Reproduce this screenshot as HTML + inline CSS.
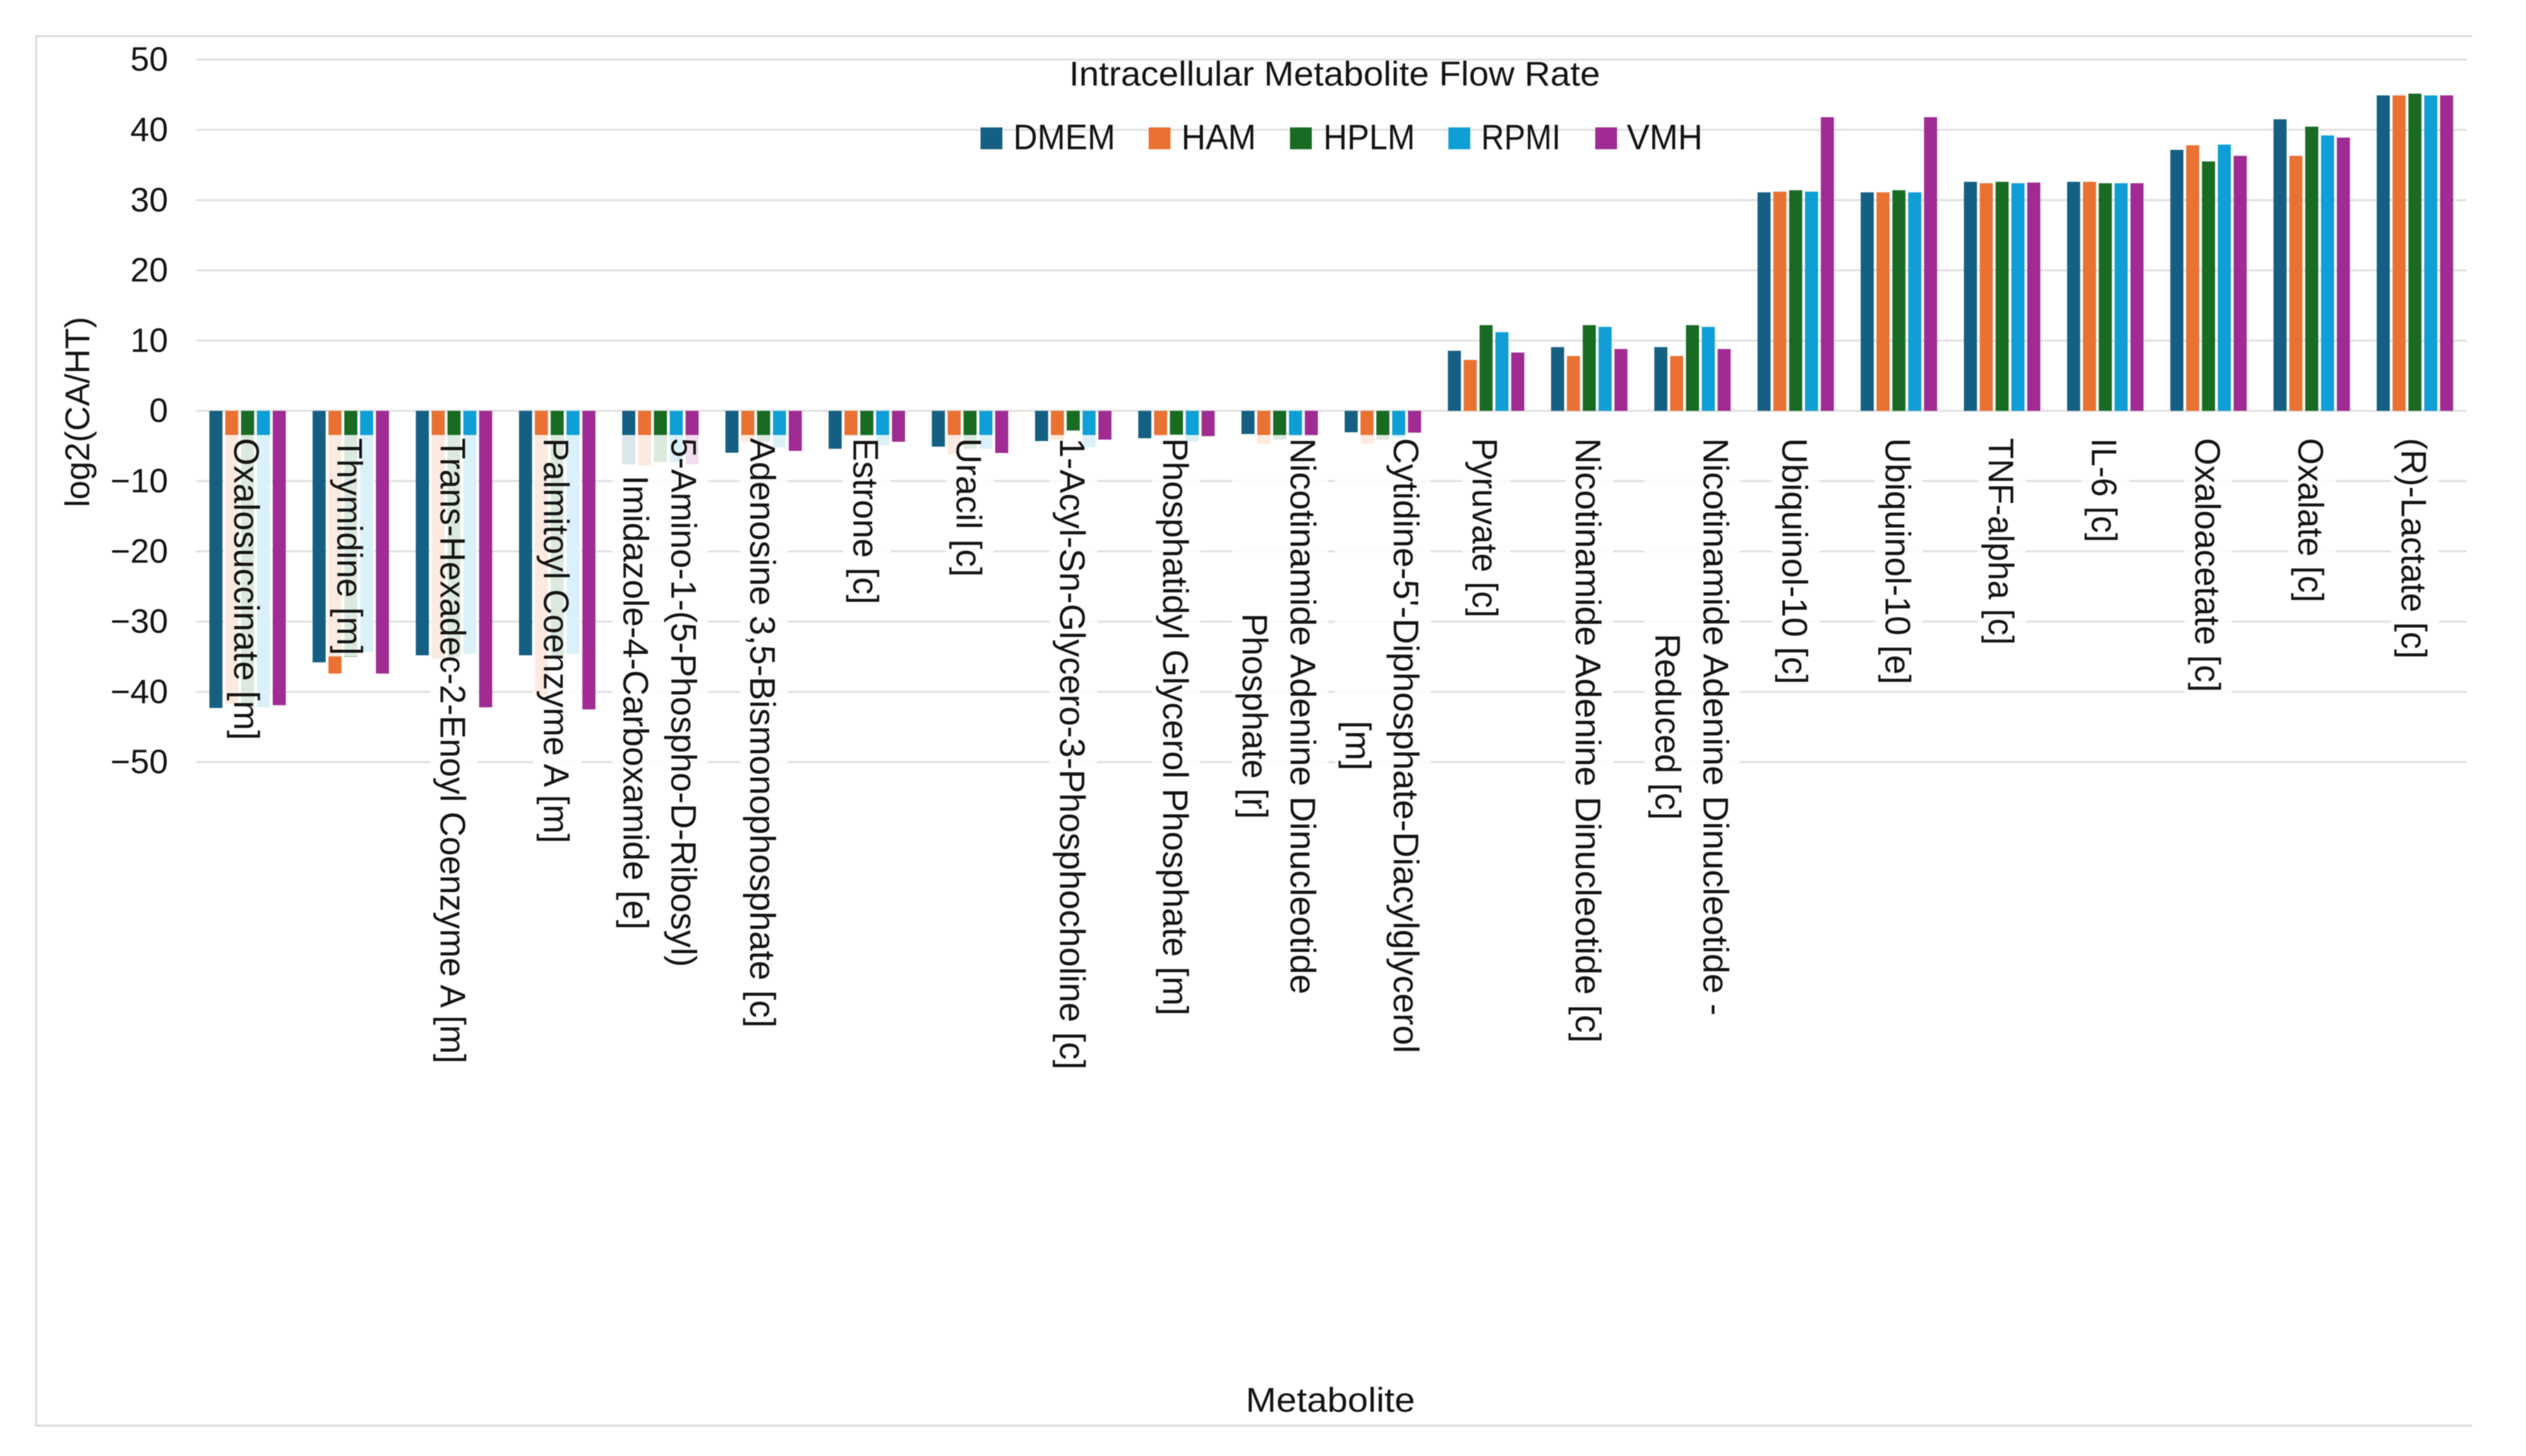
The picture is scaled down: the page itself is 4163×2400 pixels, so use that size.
<!DOCTYPE html>
<html lang="en">
<head>
<meta charset="utf-8">
<title>Intracellular Metabolite Flow Rate</title>
<style>
  html, body { margin: 0; padding: 0; background: #ffffff; }
  body { width: 4163px; height: 2400px; overflow: hidden; }
  svg { display: block; font-family: "Liberation Sans", sans-serif; filter: blur(0.8px); }
  text { fill: #141414; }
</style>
</head>
<body>
<svg id="chart" xmlns="http://www.w3.org/2000/svg" width="4163" height="2400" viewBox="0 0 4163 2400">
  <rect x="0" y="0" width="4163" height="2400" fill="#ffffff"/>
  <path d="M4074 59.5H59.5V2350H4074" fill="none" stroke="#d9d9d9" stroke-width="3"/>
  <g id="grid"></g>
  <g id="bars"></g>
  <g id="labels"></g>
  <g id="ticks"></g>
  <text transform="translate(147 679) rotate(-90)" text-anchor="middle" font-size="57" textLength="314" lengthAdjust="spacingAndGlyphs">log2(CA/HT)</text>
  <text x="1762" y="141" font-size="57" textLength="875" lengthAdjust="spacingAndGlyphs">Intracellular Metabolite Flow Rate</text>
  <g>
    <rect x="1616" y="210" width="36" height="36" fill="#156082"/>
    <text x="1670" y="246" font-size="58" textLength="168" lengthAdjust="spacingAndGlyphs">DMEM</text>
    <rect x="1893" y="210" width="36" height="36" fill="#E97132"/>
    <text x="1947" y="246" font-size="58" textLength="123" lengthAdjust="spacingAndGlyphs">HAM</text>
    <rect x="2126" y="210" width="36" height="36" fill="#196B24"/>
    <text x="2181" y="246" font-size="58" textLength="151" lengthAdjust="spacingAndGlyphs">HPLM</text>
    <rect x="2387" y="210" width="36" height="36" fill="#0F9ED5"/>
    <text x="2441" y="246" font-size="58" textLength="131" lengthAdjust="spacingAndGlyphs">RPMI</text>
    <rect x="2629" y="210" width="36" height="36" fill="#A02B93"/>
    <text x="2681" y="246" font-size="58" textLength="125" lengthAdjust="spacingAndGlyphs">VMH</text>
  </g>
  <text x="2053" y="2327" font-size="57" textLength="279" lengthAdjust="spacingAndGlyphs">Metabolite</text>
</svg>
<script>
const categories = [
  "Oxalosuccinate [m]",
  "Thymidine [m]",
  "Trans-Hexadec-2-Enoyl Coenzyme A [m]",
  "Palmitoyl Coenzyme A [m]",
  "5-Amino-1-(5-Phospho-D-Ribosyl)|Imidazole-4-Carboxamide [e]",
  "Adenosine 3,5-Bismonophosphate [c]",
  "Estrone [c]",
  "Uracil [c]",
  "1-Acyl-Sn-Glycero-3-Phosphocholine [c]",
  "Phosphatidyl Glycerol Phosphate [m]",
  "Nicotinamide Adenine Dinucleotide|Phosphate [r]",
  "Cytidine-5'-Diphosphate-Diacylglycerol|[m]",
  "Pyruvate [c]",
  "Nicotinamide Adenine Dinucleotide [c]",
  "Nicotinamide Adenine Dinucleotide -|Reduced [c]",
  "Ubiquinol-10 [c]",
  "Ubiquinol-10 [e]",
  "TNF-alpha [c]",
  "IL-6 [c]",
  "Oxaloacetate [c]",
  "Oxalate [c]",
  "(R)-Lactate [c]"
];
const seriesNames = ["DMEM", "HAM", "HPLM", "RPMI", "VMH"];
const seriesColors = ["#156082", "#E97132", "#196B24", "#0F9ED5", "#A02B93"];
const dmem = [-42.3, -35.8, -34.8, -34.8, -7.6, -5.96, -5.4, -5.1, -4.3, -3.9, -3.3, -3.05, 8.55, 9.07, 9.07, 31.1, 31.1, 32.6, 32.6, 37.15, 41.5, 44.9];
const ham = [-41.7, -37.4, -35.3, -40.5, -7.8, -4.4, -3.6, -6.2, -4.1, -3.6, -4.7, -4.7, 7.25, 7.8, 7.8, 31.2, 31.1, 32.4, 32.6, 37.8, 36.3, 44.9];
const hplm = [-42.2, -35, -35, -35, -7.3, -4.4, -3.6, -5.4, -2.8, -3.4, -4.1, -4.1, 12.2, 12.2, 12.2, 31.4, 31.4, 32.6, 32.4, 35.5, 40.45, 45.15];
const rpmi = [-42.2, -34.3, -34.6, -34.6, -7.3, -5.2, -4.9, -5.4, -5.2, -4.4, -3.6, -3.8, 11.2, 11.95, 11.95, 31.2, 31.1, 32.4, 32.4, 37.9, 39.2, 44.9];
const vmh = [-41.9, -37.4, -42.2, -42.5, -7.6, -5.7, -4.4, -6, -4.1, -3.6, -3.6, -3.1, 8.3, 8.8, 8.8, 41.8, 41.8, 32.5, 32.4, 36.3, 38.9, 44.9];
const yTicks = [50, 40, 30, 20, 10, 0, -10, -20, -30, -40, -50];

const NS = "http://www.w3.org/2000/svg";
const plotLeft = 323;
const plotRight = 4065;
const zeroY = 677.2;
const pxPerUnit = 11.58;
const barPitch = 26.1;
const barWidth = 21.5;
const fontSize = 58.5;
const labelTop = 717;
const labelTextTop = 722;
/* rendered run length of each category label line (typesetting fit, not data) */
const labelTextFit = [[498], [358], [1031], [668], [872, 749], [972], [274], [229], [1041], [952], [917, 339], [1014, 82], [296], [997], [952, 307], [406], [406], [341], [172], [419], [271], [364]];

function yScale(v) { return zeroY - v * pxPerUnit; }
function xCenter(i) { return plotLeft + (plotRight - plotLeft) / categories.length * (i + 0.5); }
function slug(s) { return s.toLowerCase().replace(/[^a-z0-9]+/g, "-").replace(/^-|-$/g, ""); }
function make(tag, parent, attrs) {
  const el = document.createElementNS(NS, tag);
  for (const k in attrs) el.setAttribute(k, attrs[k]);
  parent.appendChild(el);
  return el;
}

const gridG = document.getElementById("grid");
const barsG = document.getElementById("bars");
const labelsG = document.getElementById("labels");
const ticksG = document.getElementById("ticks");

yTicks.forEach(function (t) {
  const line = make("line", gridG, { x1: plotLeft, x2: plotRight, y1: yScale(t), y2: yScale(t), stroke: "#e2e2e2", "stroke-width": 3.5 });
  
  
  const label = make("text", ticksG, { x: 277, y: yScale(t) + 18.5, "text-anchor": "end", "font-size": 56 });
  label.textContent = t < 0 ? "\u2212" + Math.abs(t) : String(t);
  
  
});

[dmem, ham, hplm, rpmi, vmh].forEach(function (values, s) {
  values.forEach(function (v, i) {
    const x = xCenter(i) + (s - 2) * barPitch - barWidth / 2;
    const y0 = yScale(0);
    const y1 = yScale(v);
    const bar = make("rect", barsG, { x: x, y: Math.min(y0, y1), width: barWidth, height: Math.abs(y1 - y0), fill: seriesColors[s] });
    
    
  });
});

categories.forEach(function (cat, i) {
  const lines = cat.split("|");
  const c = xCenter(i);
  const fit = labelTextFit[i];
  const longest = Math.max.apply(null, fit);
  const midY = labelTextTop + longest / 2;
  const offsets = lines.length === 1 ? [-22] : [18, -61];
  const halfBox = lines.length === 1 ? 39.5 : 79;
  const group = make("g", labelsG, {});
  
  
  const box = make("rect", group, { x: c - halfBox, y: labelTop, width: halfBox * 2, height: labelTextTop - labelTop + longest + 2, fill: "#ffffff", "fill-opacity": 0.85 });
  
  
  lines.forEach(function (ln, k) {
    const t = make("text", group, { "font-size": fontSize, "text-anchor": "middle", textLength: fit[k], lengthAdjust: "spacingAndGlyphs", transform: "translate(" + (c + offsets[k]) + " " + midY + ") rotate(90)" });
    t.textContent = ln;
    
    
  });
});
</script>
</body>
</html>
